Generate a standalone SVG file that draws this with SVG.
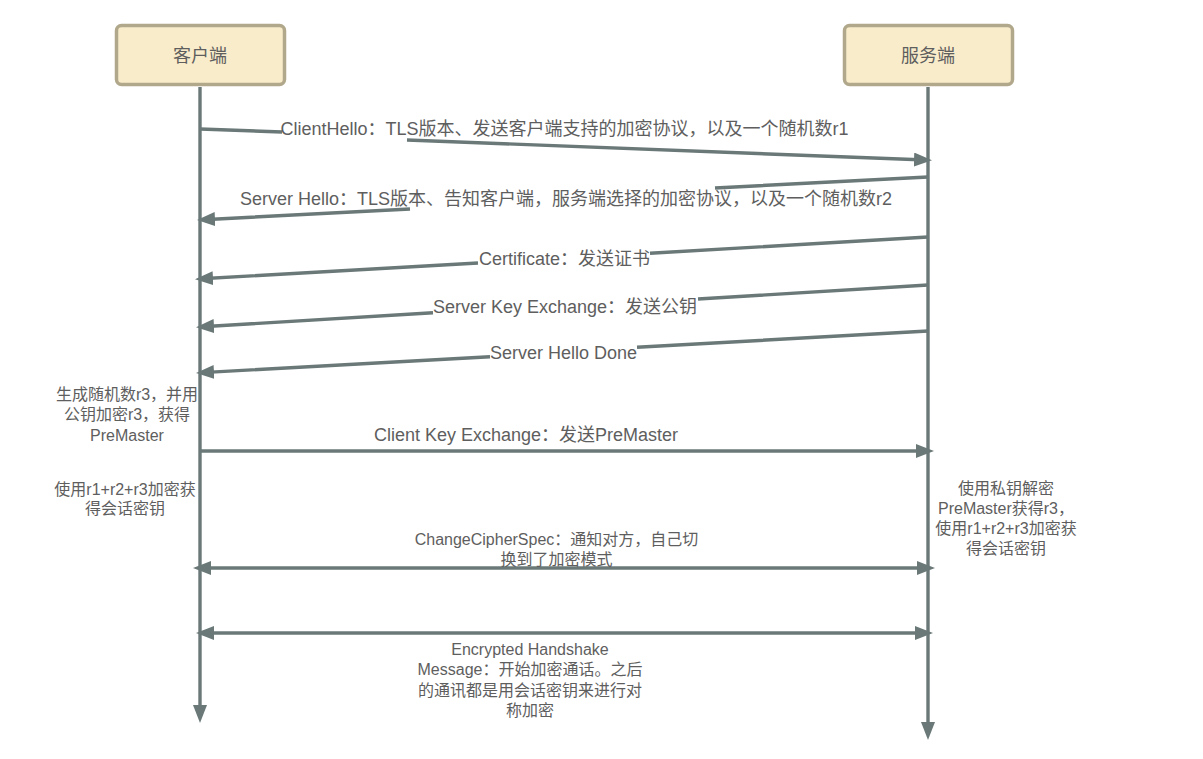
<svg xmlns="http://www.w3.org/2000/svg" width="1203" height="759" viewBox="0 0 1203 759">
<style>
  .box { fill: #f9ecca; stroke: #b1a88c; stroke-width: 3.5; }
  .title { font-family: "Liberation Sans", "Noto Sans CJK SC", sans-serif; font-size: 18px; fill: #5e5e5e; text-anchor: middle; dominant-baseline: central; }
  .msg { font-family: "Liberation Sans", "Noto Sans CJK SC", sans-serif; font-size: 18px; fill: #5e5e5e; text-anchor: middle; dominant-baseline: central; }
  .note { font-family: "Liberation Sans", "Noto Sans CJK SC", sans-serif; font-size: 16px; fill: #5e5e5e; text-anchor: middle; dominant-baseline: central; }
  .line { fill: none; stroke: #6a7878; stroke-width: 3.4; }
  .arrow { marker-end: url(#head); }
  .both { marker-start: url(#head); marker-end: url(#head); }
</style>
<defs>
  <marker id="head" markerUnits="userSpaceOnUse" markerWidth="20" markerHeight="16" refX="12" refY="7" orient="auto-start-reverse" viewBox="0 0 20 16">
    <path d="M0,0 L18,7 L0,14 z" fill="#6a7878"/>
  </marker>
</defs>
<rect width="1203" height="759" fill="#ffffff"/>

<g id="client">
  <rect class="box" x="116.5" y="25.5" width="168" height="59" rx="5"/>
  <text class="title" x="200" y="56">客户端</text>
</g>
<g id="server">
  <rect class="box" x="844.5" y="25.5" width="168" height="59" rx="5"/>
  <text class="title" x="928" y="56">服务端</text>
</g>

<g id="connectors">
  <path class="line arrow" d="M200,87 L200,717"/>
  <path class="line arrow" d="M928,87 L928,734"/>
  <path class="line arrow" d="M200,129 L282,132 M407,140 L926,160"/>
  <path class="line arrow" d="M928,177 L715,188 M410,209 L203,219.7"/>
  <path class="line arrow" d="M928,237 L650,253.3 M478,263 L201,278.8"/>
  <path class="line arrow" d="M928,285 L698,299 M433,312.7 L202,326.8"/>
  <path class="line arrow" d="M928,331 L637,347.3 M490,356.7 L202,372.6"/>
  <path class="line arrow" d="M200,451 L928,451"/>
  <path class="line both" d="M199,568 L929,568"/>
  <path class="line both" d="M202,633 L927,633"/>
</g>

<g id="labels">
  <text class="msg" x="564.5" y="129">ClientHello：TLS版本、发送客户端支持的加密协议，以及一个随机数r1</text>
  <text class="msg" x="566" y="199">Server Hello：TLS版本、告知客户端，服务端选择的加密协议，以及一个随机数r2</text>
  <text class="msg" x="564.5" y="259">Certificate：发送证书</text>
  <text class="msg" x="565" y="307">Server Key Exchange：发送公钥</text>
  <text class="msg" x="563.5" y="353">Server Hello Done</text>
  <text class="msg" x="526" y="435">Client Key Exchange：发送PreMaster</text>
  <text class="note" x="556.5" y="539">ChangeCipherSpec：通知对方，自己切</text>
  <text class="note" x="556.5" y="559">换到了加密模式</text>
  <text class="note" x="530" y="649">Encrypted Handshake</text>
  <text class="note" x="530" y="669">Message：开始加密通话。之后</text>
  <text class="note" x="530" y="690">的通讯都是用会话密钥来进行对</text>
  <text class="note" x="530" y="710">称加密</text>
</g>

<g id="client-note-1">
  <text class="note" x="127" y="394">生成随机数r3，并用</text>
  <text class="note" x="127" y="414">公钥加密r3，获得</text>
  <text class="note" x="127" y="435">PreMaster</text>
</g>
<g id="client-note-2">
  <text class="note" x="125" y="489">使用r1+r2+r3加密获</text>
  <text class="note" x="125" y="508">得会话密钥</text>
</g>
<g id="server-note">
  <text class="note" x="1006" y="488">使用私钥解密</text>
  <text class="note" x="1006" y="508">PreMaster获得r3，</text>
  <text class="note" x="1006" y="528">使用r1+r2+r3加密获</text>
  <text class="note" x="1006" y="548">得会话密钥</text>
</g>
</svg>
